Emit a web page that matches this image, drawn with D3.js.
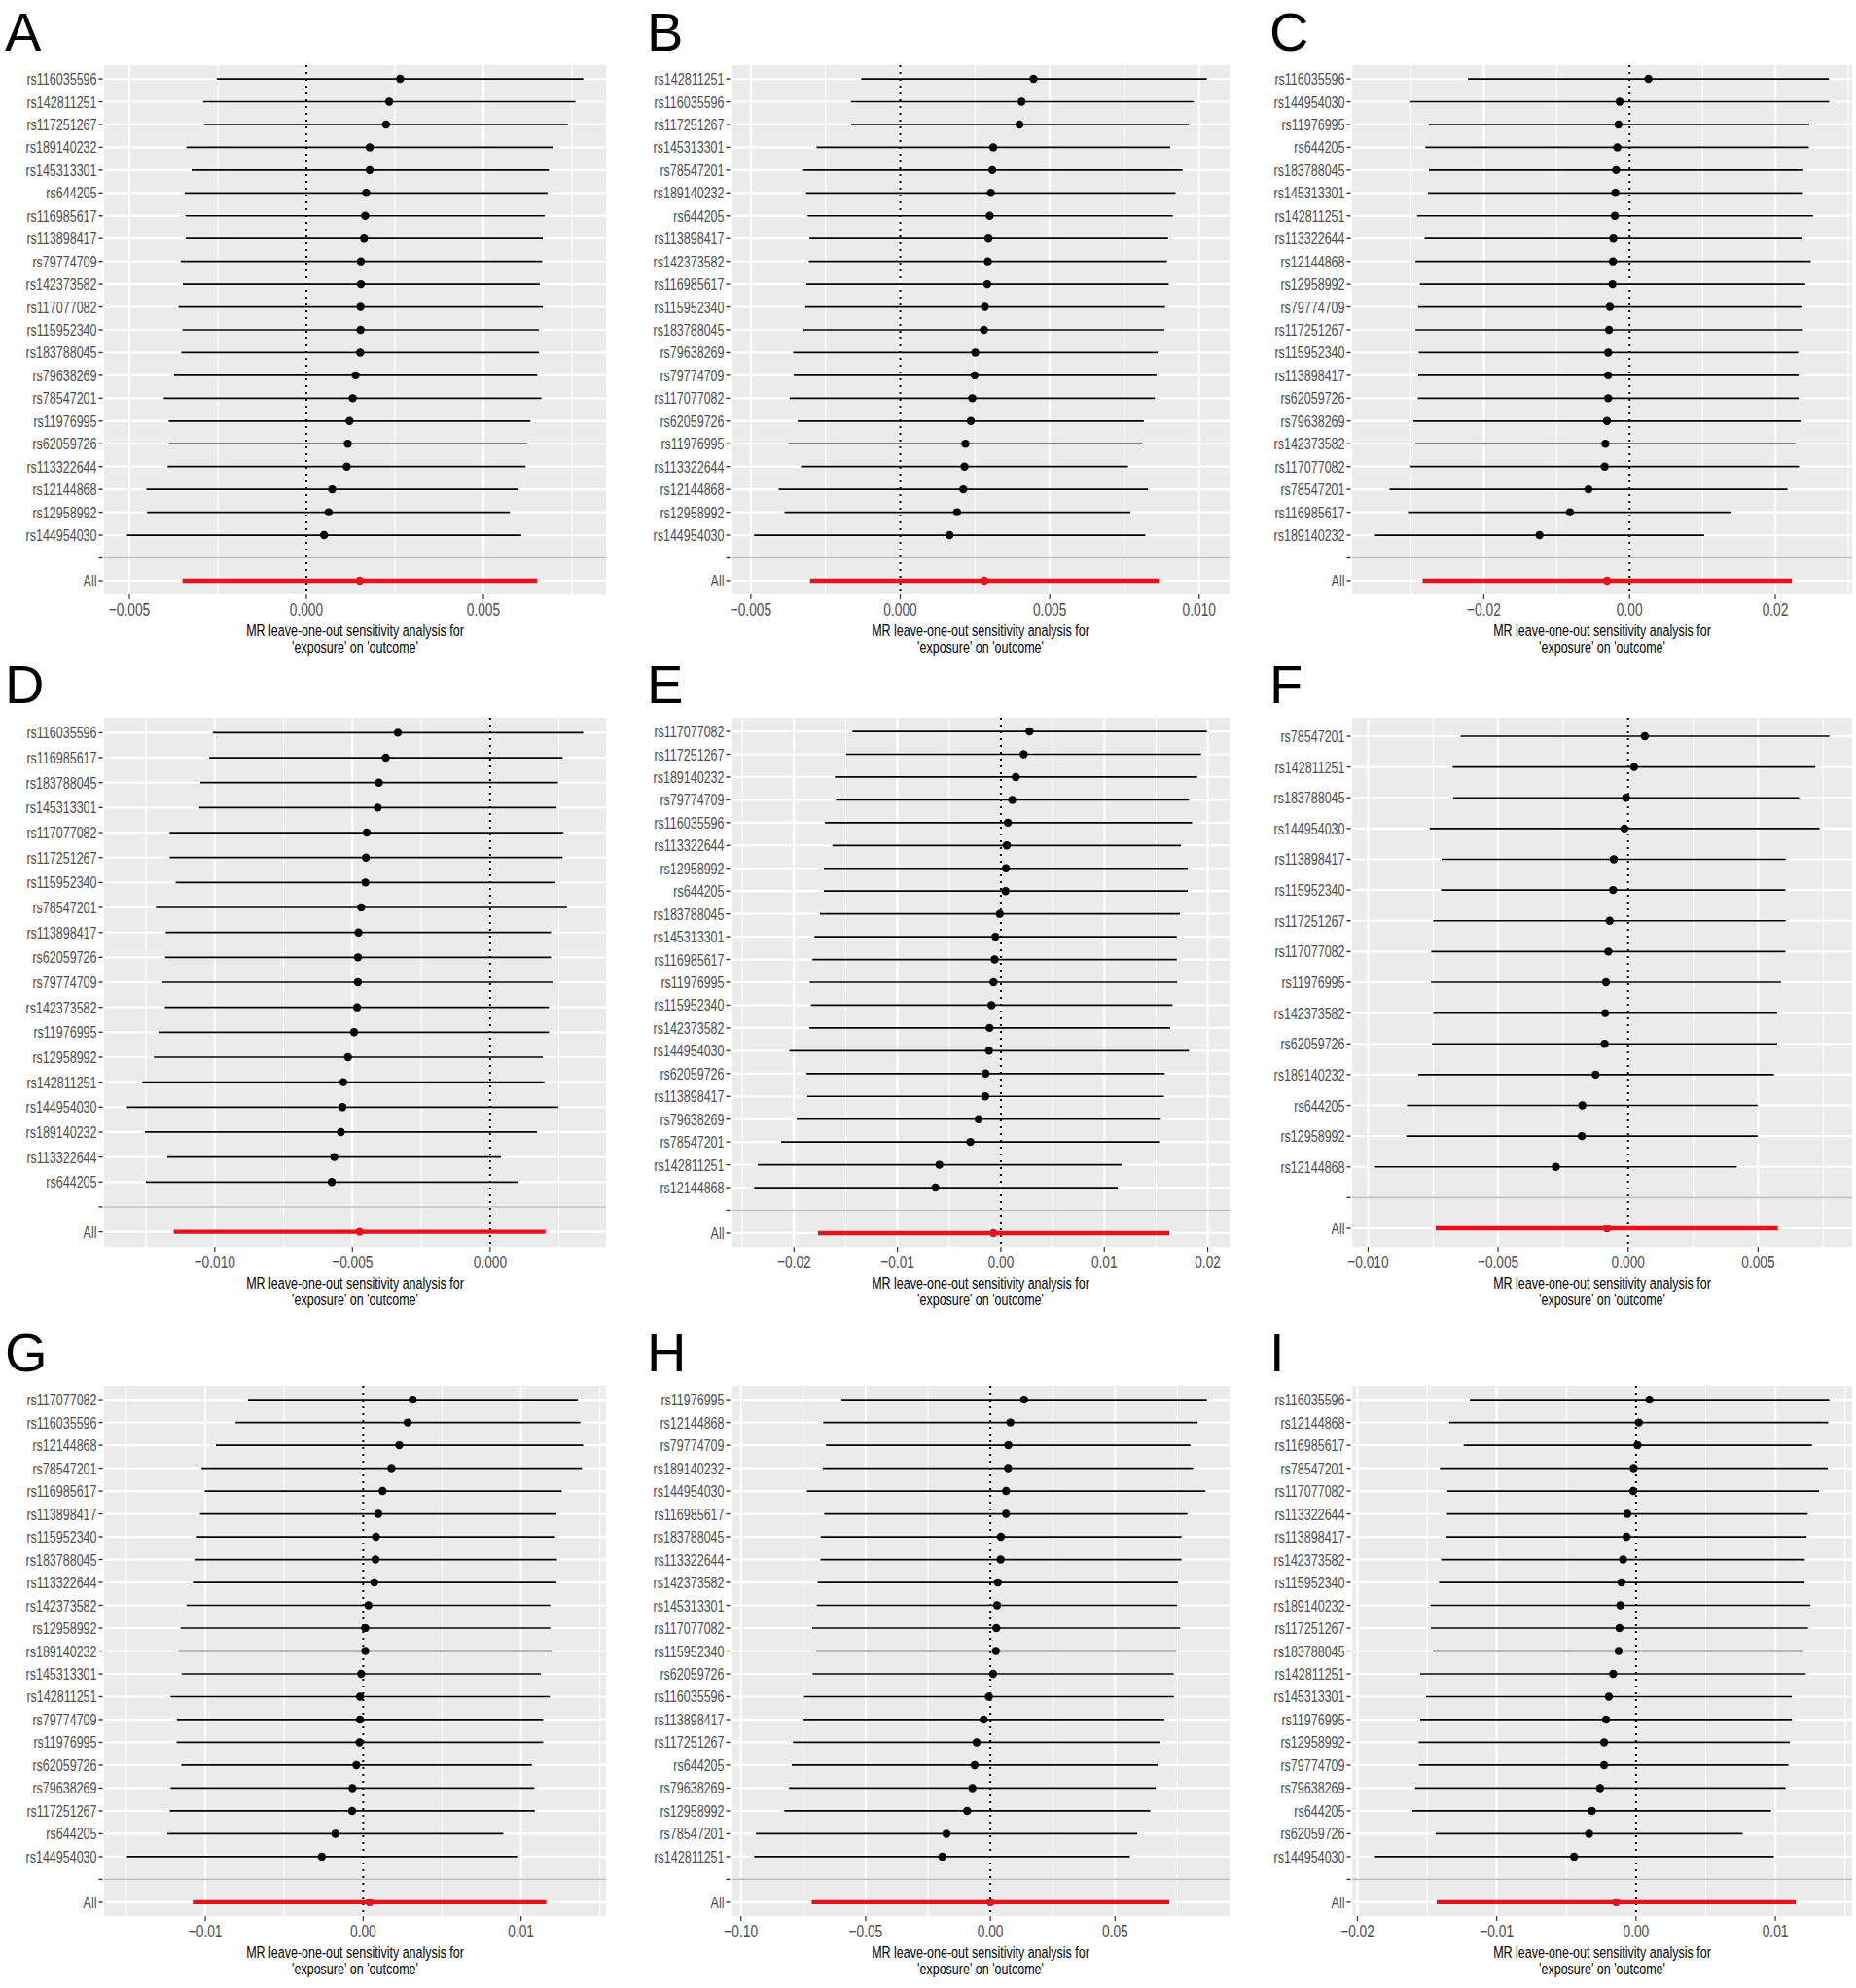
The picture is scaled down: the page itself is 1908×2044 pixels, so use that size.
<!DOCTYPE html>
<html>
<head>
<meta charset="utf-8">
<script src="https://cdn.jsdelivr.net/npm/d3@7"></script>
<style>
  body { margin: 0; background: #fff; }
  text { font-family: 'Liberation Sans', Arial, sans-serif; }
</style>
</head>
<body>
<script>
// ---- data: leave-one-out estimates (top row first) ----
const snpA = ['rs116035596','rs142811251','rs117251267','rs189140232','rs145313301','rs644205','rs116985617','rs113898417','rs79774709','rs142373582','rs117077082','rs115952340','rs183788045','rs79638269','rs78547201','rs11976995','rs62059726','rs113322644','rs12144868','rs12958992','rs144954030'];
const bA = [0.00265,0.00234,0.00225,0.00179,0.00179,0.00169,0.00166,0.00163,0.00154,0.00154,0.00153,0.00153,0.00152,0.00139,0.00131,0.00122,0.00117,0.00114,0.00073,0.00063,0.00050];
const loA = [-0.00253,-0.00292,-0.00289,-0.00339,-0.00324,-0.00343,-0.00341,-0.00341,-0.00355,-0.00349,-0.00361,-0.00350,-0.00353,-0.00374,-0.00403,-0.00389,-0.00388,-0.00392,-0.00452,-0.00450,-0.00507];
const hiA = [0.00782,0.00760,0.00739,0.00698,0.00685,0.00681,0.00673,0.00668,0.00666,0.00659,0.00668,0.00657,0.00657,0.00652,0.00664,0.00633,0.00623,0.00619,0.00598,0.00575,0.00607];
const allA = [-0.00350,0.00151,0.00652];
const ticksA = [-0.005,0,0.005];

const snpB = ['rs142811251','rs116035596','rs117251267','rs145313301','rs78547201','rs189140232','rs644205','rs113898417','rs142373582','rs116985617','rs115952340','rs183788045','rs79638269','rs79774709','rs117077082','rs62059726','rs11976995','rs113322644','rs12144868','rs12958992','rs144954030'];
const bB = [0.00446,0.00406,0.00399,0.00311,0.00308,0.00303,0.00299,0.00295,0.00293,0.00291,0.00283,0.00280,0.00251,0.00249,0.00241,0.00236,0.00218,0.00215,0.00211,0.00190,0.00165];
const loB = [-0.00131,-0.00165,-0.00164,-0.00280,-0.00328,-0.00315,-0.00310,-0.00304,-0.00306,-0.00314,-0.00318,-0.00324,-0.00358,-0.00356,-0.00370,-0.00343,-0.00374,-0.00332,-0.00407,-0.00387,-0.00489];
const hiB = [0.01026,0.00982,0.00965,0.00903,0.00945,0.00921,0.00912,0.00896,0.00892,0.00898,0.00886,0.00884,0.00861,0.00857,0.00852,0.00815,0.00810,0.00762,0.00829,0.00770,0.00820];
const allB = [-0.00302,0.00281,0.00865];
const ticksB = [-0.005,0,0.005,0.010];

const snpC = ['rs116035596','rs144954030','rs11976995','rs644205','rs183788045','rs145313301','rs142811251','rs113322644','rs12144868','rs12958992','rs79774709','rs117251267','rs115952340','rs113898417','rs62059726','rs79638269','rs142373582','rs117077082','rs78547201','rs116985617','rs189140232'];
const bC = [0.00260,-0.00136,-0.00152,-0.00168,-0.00184,-0.00195,-0.00201,-0.00222,-0.00228,-0.00233,-0.00271,-0.00282,-0.00293,-0.00293,-0.00293,-0.00309,-0.00331,-0.00341,-0.00564,-0.00818,-0.01236];
const loC = [-0.02217,-0.03008,-0.02759,-0.02802,-0.02753,-0.02764,-0.02916,-0.02813,-0.02938,-0.02878,-0.02900,-0.02938,-0.02894,-0.02900,-0.02905,-0.02965,-0.02938,-0.03008,-0.03295,-0.03041,-0.03496];
const hiC = [0.02737,0.02743,0.02466,0.02461,0.02385,0.02379,0.02520,0.02374,0.02488,0.02412,0.02374,0.02379,0.02314,0.02320,0.02320,0.02347,0.02276,0.02325,0.02168,0.01398,0.01024];
const allC = [-0.02840,-0.00309,0.02228];
const ticksC = [-0.02,0,0.02];

const snpD = ['rs116035596','rs116985617','rs183788045','rs145313301','rs117077082','rs117251267','rs115952340','rs78547201','rs113898417','rs62059726','rs79774709','rs142373582','rs11976995','rs12958992','rs142811251','rs144954030','rs189140232','rs113322644','rs644205'];
const bD = [-0.00335,-0.00379,-0.00404,-0.00408,-0.00448,-0.00451,-0.00453,-0.00468,-0.00478,-0.00480,-0.00480,-0.00483,-0.00494,-0.00516,-0.00533,-0.00536,-0.00542,-0.00566,-0.00575];
const loD = [-0.01007,-0.01020,-0.01052,-0.01056,-0.01164,-0.01164,-0.01142,-0.01214,-0.01178,-0.01180,-0.01190,-0.01181,-0.01204,-0.01221,-0.01263,-0.01319,-0.01253,-0.01172,-0.01250];
const hiD = [0.00338,0.00263,0.00246,0.00241,0.00266,0.00263,0.00237,0.00279,0.00221,0.00221,0.00230,0.00214,0.00214,0.00191,0.00197,0.00247,0.00170,0.00039,0.00102];
const allD = [-0.01149,-0.00474,0.00201];
const ticksD = [-0.010,-0.005,0];

const snpE = ['rs117077082','rs117251267','rs189140232','rs79774709','rs116035596','rs113322644','rs12958992','rs644205','rs183788045','rs145313301','rs116985617','rs11976995','rs115952340','rs142373582','rs144954030','rs62059726','rs113898417','rs79638269','rs78547201','rs142811251','rs12144868'];
const bE = [0.00277,0.00220,0.00144,0.00110,0.00068,0.00057,0.00049,0.00045,-0.00011,-0.00053,-0.00061,-0.00072,-0.00091,-0.00110,-0.00114,-0.00148,-0.00152,-0.00216,-0.00295,-0.00595,-0.00633];
const loE = [-0.01436,-0.01496,-0.01606,-0.01595,-0.01701,-0.01629,-0.01712,-0.01712,-0.01750,-0.01803,-0.01822,-0.01848,-0.01837,-0.01852,-0.02045,-0.01879,-0.01871,-0.01974,-0.02125,-0.02352,-0.02386];
const hiE = [0.01992,0.01936,0.01898,0.01818,0.01848,0.01742,0.01807,0.01807,0.01731,0.01701,0.01701,0.01705,0.01659,0.01636,0.01818,0.01583,0.01576,0.01546,0.01530,0.01167,0.01129];
const allE = [-0.01769,-0.00072,0.01629];
const ticksE = [-0.02,-0.01,0,0.01,0.02];

const snpF = ['rs78547201','rs142811251','rs183788045','rs144954030','rs113898417','rs115952340','rs117251267','rs117077082','rs11976995','rs142373582','rs62059726','rs189140232','rs644205','rs12958992','rs12144868'];
const bF = [0.00064,0.00023,-0.00008,-0.00014,-0.00055,-0.00058,-0.00071,-0.00076,-0.00085,-0.00088,-0.00090,-0.00125,-0.00176,-0.00178,-0.00278];
const loF = [-0.00644,-0.00675,-0.00673,-0.00763,-0.00717,-0.00719,-0.00749,-0.00757,-0.00758,-0.00749,-0.00754,-0.00807,-0.00851,-0.00853,-0.00974];
const hiF = [0.00774,0.00720,0.00657,0.00736,0.00606,0.00605,0.00606,0.00605,0.00588,0.00573,0.00573,0.00561,0.00498,0.00498,0.00418];
const allF = [-0.00740,-0.00082,0.00576];
const ticksF = [-0.010,-0.005,0,0.005];

const snpG = ['rs117077082','rs116035596','rs12144868','rs78547201','rs116985617','rs113898417','rs115952340','rs183788045','rs113322644','rs142373582','rs12958992','rs189140232','rs145313301','rs142811251','rs79774709','rs11976995','rs62059726','rs79638269','rs117251267','rs644205','rs144954030'];
const bG = [0.00314,0.00282,0.00229,0.00179,0.00123,0.00096,0.00081,0.00078,0.00070,0.00033,0.00013,0.00013,-0.00013,-0.00020,-0.00020,-0.00023,-0.00043,-0.00068,-0.00070,-0.00176,-0.00262];
const loG = [-0.00730,-0.00808,-0.00933,-0.01024,-0.01004,-0.01034,-0.01054,-0.01069,-0.01079,-0.01119,-0.01157,-0.01170,-0.01150,-0.01220,-0.01180,-0.01182,-0.01152,-0.01220,-0.01225,-0.01240,-0.01497];
const hiG = [0.01361,0.01376,0.01394,0.01386,0.01258,0.01225,0.01215,0.01228,0.01223,0.01185,0.01185,0.01197,0.01125,0.01182,0.01140,0.01140,0.01069,0.01084,0.01087,0.00888,0.00976];
const allG = [-0.01079,0.00040,0.01160];
const ticksG = [-0.01,0,0.01];

const snpH = ['rs11976995','rs12144868','rs79774709','rs189140232','rs144954030','rs116985617','rs183788045','rs113322644','rs142373582','rs145313301','rs117077082','rs115952340','rs62059726','rs116035596','rs113898417','rs117251267','rs644205','rs79638269','rs12958992','rs78547201','rs142811251'];
const bH = [0.0135,0.0080,0.0072,0.0071,0.0063,0.0063,0.0042,0.0041,0.0030,0.0027,0.0024,0.0022,0.0011,-0.0006,-0.0027,-0.0055,-0.0063,-0.0072,-0.0093,-0.0176,-0.0193];
const loH = [-0.0597,-0.0670,-0.0659,-0.0672,-0.0735,-0.0666,-0.0680,-0.0681,-0.0692,-0.0696,-0.0714,-0.0699,-0.0713,-0.0747,-0.0749,-0.0791,-0.0796,-0.0807,-0.0826,-0.0940,-0.0947];
const hiH = [0.0868,0.0831,0.0802,0.0812,0.0862,0.0790,0.0766,0.0766,0.0752,0.0749,0.0761,0.0746,0.0735,0.0736,0.0697,0.0681,0.0670,0.0663,0.0641,0.0589,0.0559];
const allH = [-0.0716,0.0000,0.0717];
const ticksH = [-0.10,-0.05,0,0.05];

const snpI = ['rs116035596','rs12144868','rs116985617','rs78547201','rs117077082','rs113322644','rs113898417','rs142373582','rs115952340','rs189140232','rs117251267','rs183788045','rs142811251','rs145313301','rs11976995','rs12958992','rs79774709','rs79638269','rs644205','rs62059726','rs144954030'];
const bI = [0.00096,0.00020,0.00011,-0.00017,-0.00020,-0.00062,-0.00068,-0.00093,-0.00105,-0.00113,-0.00119,-0.00125,-0.00164,-0.00195,-0.00215,-0.00229,-0.00229,-0.00258,-0.00317,-0.00337,-0.00445];
const loI = [-0.01193,-0.01340,-0.01238,-0.01408,-0.01354,-0.01357,-0.01363,-0.01399,-0.01414,-0.01476,-0.01473,-0.01456,-0.01550,-0.01507,-0.01550,-0.01561,-0.01558,-0.01586,-0.01606,-0.01439,-0.01875];
const hiI = [0.01388,0.01380,0.01263,0.01377,0.01314,0.01232,0.01224,0.01212,0.01210,0.01252,0.01235,0.01204,0.01218,0.01119,0.01119,0.01105,0.01094,0.01074,0.00969,0.00765,0.00989];
const allI = [-0.01431,-0.00142,0.01147];
const ticksI = [-0.02,-0.01,0,0.01];

const panels = [
  { id: 'A', snp: snpA, b: bA, lo: loA, hi: hiA, all: allA, ticks: ticksA, digits: 3 },
  { id: 'B', snp: snpB, b: bB, lo: loB, hi: hiB, all: allB, ticks: ticksB, digits: 3 },
  { id: 'C', snp: snpC, b: bC, lo: loC, hi: hiC, all: allC, ticks: ticksC, digits: 2 },
  { id: 'D', snp: snpD, b: bD, lo: loD, hi: hiD, all: allD, ticks: ticksD, digits: 3 },
  { id: 'E', snp: snpE, b: bE, lo: loE, hi: hiE, all: allE, ticks: ticksE, digits: 2 },
  { id: 'F', snp: snpF, b: bF, lo: loF, hi: hiF, all: allF, ticks: ticksF, digits: 3 },
  { id: 'G', snp: snpG, b: bG, lo: loG, hi: hiG, all: allG, ticks: ticksG, digits: 2 },
  { id: 'H', snp: snpH, b: bH, lo: loH, hi: hiH, all: allH, ticks: ticksH, digits: 2 },
  { id: 'I', snp: snpI, b: bI, lo: loI, hi: hiI, all: allI, ticks: ticksI, digits: 2 },
];

// ---- layout ----
const width = 1908;
const height = 2044;
const colLeft = [107, 752, 1390];
const colRight = [623, 1264, 1904];
const letterX = [5, 665, 1305];
const rowTop = [67, 738, 1425];
const rowBottom = [611, 1282, 1970];
const squeeze = 0.745; // the figure's text is set narrow
const labelSize = 16.8;
const tickSize = 18.4;

const svg = d3
  .select('body')
  .append('svg')
  .attr('width', width)
  .attr('height', height);

svg.append('rect').attr('width', width).attr('height', height).attr('fill', '#fff');

const drawPanel = (p, i) => {
  const col = i % 3;
  const row = Math.floor(i / 3);
  const left = colLeft[col];
  const right = colRight[col];
  const top = rowTop[row];
  const bottom = rowBottom[row];

  // x: ggplot continuous scale, 5% expansion of data range
  const ext = d3.extent(p.lo.concat(p.hi, [p.all[0], p.all[2]]));
  const pad = (ext[1] - ext[0]) * 0.05;
  const xScale = d3
    .scaleLinear()
    .domain([ext[0] - pad, ext[1] + pad])
    .range([left, right]);
  const [d0, d1] = xScale.domain();

  // y: discrete, SNPs on top, blank level, then "All"
  const levels = p.snp.concat(['', 'All']);
  const yScale = d3.scalePoint().domain(levels).range([top, bottom]).padding(0.6);

  const rows = p.snp.map((s, k) => ({ snp: s, b: p.b[k], lo: p.lo[k], hi: p.hi[k] }));
  const allRow = { snp: 'All', lo: p.all[0], b: p.all[1], hi: p.all[2] };

  const g = svg.append('g').attr('class', 'panel');

  g.append('rect')
    .attr('x', left)
    .attr('y', top)
    .attr('width', right - left)
    .attr('height', bottom - top)
    .attr('fill', '#ebebeb');

  const step = p.ticks[1] - p.ticks[0];
  const minors = d3
    .range(-4, p.ticks.length + 4)
    .map((k) => p.ticks[0] + (k + 0.5) * step)
    .filter((v) => v > d0 && v < d1);
  const majors = p.ticks.filter((v) => v >= d0 && v <= d1);

  g.append('g')
    .selectAll('line')
    .data(minors)
    .enter()
    .append('line')
    .attr('x1', (d) => xScale(d))
    .attr('x2', (d) => xScale(d))
    .attr('y1', top)
    .attr('y2', bottom)
    .attr('stroke', '#fff')
    .attr('stroke-width', 1.1);

  g.append('g')
    .selectAll('line')
    .data(majors)
    .enter()
    .append('line')
    .attr('x1', (d) => xScale(d))
    .attr('x2', (d) => xScale(d))
    .attr('y1', top)
    .attr('y2', bottom)
    .attr('stroke', '#fff')
    .attr('stroke-width', 2.2);

  g.append('g')
    .selectAll('line')
    .data(levels)
    .enter()
    .append('line')
    .attr('x1', left)
    .attr('x2', right)
    .attr('y1', (d) => yScale(d))
    .attr('y2', (d) => yScale(d))
    .attr('stroke', '#fff')
    .attr('stroke-width', 2.2);

  // dotted reference line at 0
  g.append('line')
    .attr('x1', xScale(0))
    .attr('x2', xScale(0))
    .attr('y1', top)
    .attr('y2', bottom)
    .attr('stroke', '#000')
    .attr('stroke-width', 2)
    .attr('stroke-dasharray', '2,5');

  // error bars
  g.append('g')
    .selectAll('line')
    .data(rows)
    .enter()
    .append('line')
    .attr('x1', (d) => xScale(d.lo))
    .attr('x2', (d) => xScale(d.hi))
    .attr('y1', (d) => yScale(d.snp))
    .attr('y2', (d) => yScale(d.snp))
    .attr('stroke', '#000')
    .attr('stroke-width', 1.7);

  g.append('line')
    .attr('x1', xScale(allRow.lo))
    .attr('x2', xScale(allRow.hi))
    .attr('y1', yScale('All'))
    .attr('y2', yScale('All'))
    .attr('stroke', '#e8121a')
    .attr('stroke-width', 4.4);

  g.append('g')
    .selectAll('circle')
    .data(rows)
    .enter()
    .append('circle')
    .attr('cx', (d) => xScale(d.b))
    .attr('cy', (d) => yScale(d.snp))
    .attr('r', 4.2)
    .attr('fill', '#000');

  g.append('circle')
    .attr('cx', xScale(allRow.b))
    .attr('cy', yScale('All'))
    .attr('r', 4.2)
    .attr('fill', '#e8121a');

  // grey separator on the blank level
  g.append('line')
    .attr('x1', left)
    .attr('x2', right)
    .attr('y1', yScale(''))
    .attr('y2', yScale(''))
    .attr('stroke', '#bebebe')
    .attr('stroke-width', 1.6);

  // y axis: ticks + labels
  g.append('g')
    .selectAll('line')
    .data(levels)
    .enter()
    .append('line')
    .attr('x1', left - 5.5)
    .attr('x2', left - 1.5)
    .attr('y1', (d) => yScale(d))
    .attr('y2', (d) => yScale(d))
    .attr('stroke', '#333')
    .attr('stroke-width', 1.4);

  g.append('g')
    .selectAll('text')
    .data(levels)
    .enter()
    .append('text')
    .attr('transform', (d) => `translate(${left - 7.5},${yScale(d) + 6}) scale(${squeeze},1)`)
    .attr('text-anchor', 'end')
    .attr('font-size', labelSize)
    .attr('fill', '#4d4d4d')
    .text((d) => d);

  // x axis: ticks + labels
  const fmt = d3.format(`.${p.digits}f`);
  g.append('g')
    .selectAll('line')
    .data(majors)
    .enter()
    .append('line')
    .attr('x1', (d) => xScale(d))
    .attr('x2', (d) => xScale(d))
    .attr('y1', bottom)
    .attr('y2', bottom + 5)
    .attr('stroke', '#333')
    .attr('stroke-width', 1.2);

  g.append('g')
    .selectAll('text')
    .data(majors)
    .enter()
    .append('text')
    .attr('transform', (d) => `translate(${xScale(d)},${bottom + 21.5}) scale(${squeeze},1)`)
    .attr('text-anchor', 'middle')
    .attr('font-size', tickSize)
    .attr('fill', '#4d4d4d')
    .text((d) => fmt(d).replace('-', '\u2212'));

  // axis title
  const cx = (left + right) / 2;
  const title = ["MR leave-one-out sensitivity analysis for", "'exposure' on 'outcome'"];
  g.append('g')
    .selectAll('text')
    .data(title)
    .enter()
    .append('text')
    .attr('transform', (d, k) => `translate(${cx},${bottom + 43 + k * 17}) scale(${squeeze},1)`)
    .attr('text-anchor', 'middle')
    .attr('font-size', labelSize)
    .attr('fill', '#000')
    .text((d) => d);

  // panel letter
  svg
    .append('text')
    .attr('x', letterX[col])
    .attr('y', top - 15)
    .attr('font-size', 56)
    .attr('fill', '#000')
    .text(p.id);
};

panels.forEach(drawPanel);
</script>
</body>
</html>
